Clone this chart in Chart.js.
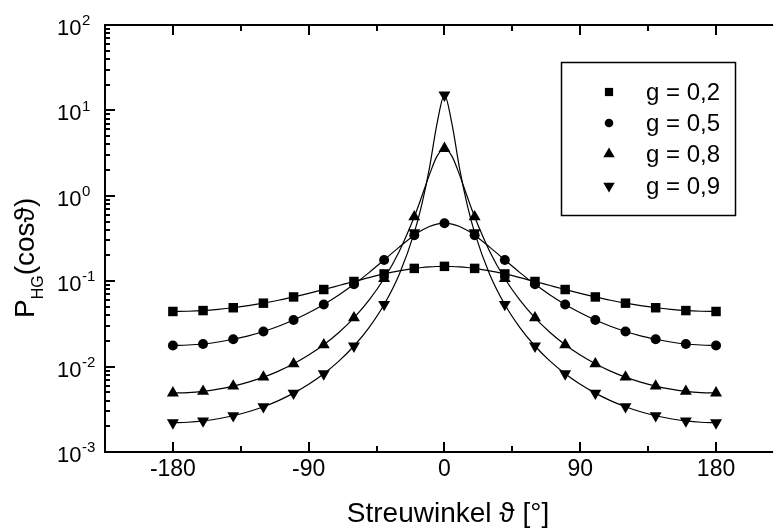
<!DOCTYPE html>
<html>
<head>
<meta charset="utf-8">
<script src="https://cdn.jsdelivr.net/npm/chart.js@4.4.1/dist/chart.umd.min.js"></script>
<style>
html,body{margin:0;padding:0;background:#fff;overflow:hidden;}
canvas{display:block;}
</style>
</head>
<body>
<canvas id="c" width="778" height="530"></canvas>
<script>
// ---- data ----
const markerAngles = [-180,-160,-140,-120,-100,-80,-60,-40,-20,0,20,40,60,80,100,120,140,160,180];
const lineAngles = [-180,-170,-160,-150,-140,-130,-120,-110,-100,-90,-80,-70,-60,-50,-40,-30,-20,-15,-10,-5,0,5,10,15,20,30,40,50,60,70,80,90,100,110,120,130,140,150,160,170,180];

const g02Marks = [0.0442,0.0453,0.0489,0.0553,0.0654,0.0799,0.0992,0.1216,0.1412,0.1492,0.1412,0.1216,0.0992,0.0799,0.0654,0.0553,0.0489,0.0453,0.0442];
const g05Marks = [0.0177,0.0184,0.0209,0.0258,0.0351,0.0534,0.0919,0.1773,0.3453,0.4775,0.3453,0.1773,0.0919,0.0534,0.0351,0.0258,0.0209,0.0184,0.0177];
const g08Marks = [0.00491,0.00514,0.00591,0.00752,0.01079,0.0180,0.0372,0.1074,0.568,3.581,0.568,0.1074,0.0372,0.0180,0.01079,0.00752,0.00591,0.00514,0.00491];
const g09Marks = [0.00220,0.00231,0.00266,0.00339,0.00489,0.00825,0.01742,0.0534,0.3704,15.12,0.3704,0.0534,0.01742,0.00825,0.00489,0.00339,0.00266,0.00231,0.00220];

const g02Line = [0.0442,0.0445,0.0453,0.0468,0.0489,0.0517,0.0553,0.0598,0.0654,0.0720,0.0799,0.0890,0.0992,0.1103,0.1216,0.1323,0.1412,0.1446,0.1471,0.1487,0.1492,0.1487,0.1471,0.1446,0.1412,0.1323,0.1216,0.1103,0.0992,0.0890,0.0799,0.0720,0.0654,0.0598,0.0553,0.0517,0.0489,0.0468,0.0453,0.0445,0.0442];
const g05Line = [0.0177,0.0179,0.0184,0.0194,0.0209,0.0229,0.0258,0.0297,0.0351,0.0427,0.0534,0.0690,0.0919,0.1261,0.1773,0.2508,0.3453,0.3942,0.4370,0.4668,0.4775,0.4668,0.4370,0.3942,0.3453,0.2508,0.1773,0.1261,0.0919,0.0690,0.0534,0.0427,0.0351,0.0297,0.0258,0.0229,0.0209,0.0194,0.0184,0.0179,0.0177];
const g08Line = [0.00491,0.00497,0.00514,0.00544,0.00591,0.00657,0.00752,0.00886,0.01079,0.01364,0.0180,0.0251,0.0372,0.0599,0.1074,0.2233,0.568,0.986,1.757,2.896,3.581,2.896,1.757,0.986,0.568,0.2233,0.1074,0.0599,0.0372,0.0251,0.0180,0.01364,0.01079,0.00886,0.00752,0.00657,0.00591,0.00544,0.00514,0.00497,0.00491];
const g09Line = [0.00220,0.00223,0.00231,0.00245,0.00266,0.00296,0.00339,0.00400,0.00489,0.00621,0.00825,0.01158,0.01742,0.02866,0.0534,0.1201,0.3704,0.794,2.095,6.913,15.12,6.913,2.095,0.794,0.3704,0.1201,0.0534,0.02866,0.01742,0.01158,0.00825,0.00621,0.00489,0.00400,0.00339,0.00296,0.00266,0.00245,0.00231,0.00223,0.00220];

const seriesLabels = ['g = 0,2','g = 0,5','g = 0,8','g = 0,9'];
const xTickLabels = [-180,-90,0,90,180];
const yTickExponents = [2,1,0,-1,-2,-3];

// ---- build ----
const FONT = "'Liberation Sans', Arial, Helvetica, sans-serif";
const pts = (xs, ys) => xs.map((x, i) => ({x: x, y: ys[i]}));
const styles = [
  {pointStyle:'rect', radius:6.7, rot:0},
  {pointStyle:'circle', radius:5, rot:0},
  {pointStyle:'triangle', radius:6.9, rot:0},
  {pointStyle:'triangle', radius:6.9, rot:180}
];
const lines = [g02Line, g05Line, g08Line, g09Line];
const marks = [g02Marks, g05Marks, g08Marks, g09Marks];

const datasets = [];
lines.forEach((l, i) => datasets.push({
  label: seriesLabels[i] + ' line', data: pts(lineAngles, l), showLine: true,
  borderColor: '#000', borderWidth: 1.2, pointRadius: 0, cubicInterpolationMode: 'monotone',
  fill: false, order: 2
}));
marks.forEach((m, i) => datasets.push({
  label: seriesLabels[i], data: pts(markerAngles, m), showLine: false,
  pointStyle: styles[i].pointStyle, pointRadius: styles[i].radius, pointRotation: styles[i].rot,
  backgroundColor: '#000', borderColor: '#000', borderWidth: 0, order: 1
}));

function drawMarker(ctx, style, x, y, r, rot) {
  ctx.save();
  ctx.translate(x, y);
  ctx.rotate(rot * Math.PI / 180);
  ctx.beginPath();
  if (style === 'rect') {
    const s = r * Math.SQRT1_2;
    ctx.rect(-s, -s, 2 * s, 2 * s);
  } else if (style === 'circle') {
    ctx.arc(0, 0, r, 0, Math.PI * 2);
  } else {
    for (let k = 0; k < 3; k++) {
      const a = -Math.PI / 2 + k * 2 * Math.PI / 3;
      const px = Math.cos(a) * r, py = Math.sin(a) * r;
      if (k === 0) ctx.moveTo(px, py); else ctx.lineTo(px, py);
    }
    ctx.closePath();
  }
  ctx.fillStyle = '#000';
  ctx.fill();
  ctx.restore();
}

const decor = {
  id: 'decor',
  afterDraw(chart) {
    const ctx = chart.ctx, a = chart.chartArea;
    const xs = chart.scales.x, ys = chart.scales.y;
    ctx.save();
    ctx.strokeStyle = '#000';
    ctx.lineWidth = 2;
    // frame
    ctx.beginPath();
    ctx.moveTo(a.right + 2, a.top); ctx.lineTo(a.left, a.top); ctx.lineTo(a.left, a.bottom); ctx.lineTo(a.right + 2, a.bottom);
    ctx.stroke();
    // x ticks
    ctx.beginPath();
    for (let v = -180; v <= 180; v += 45) {
      const px = Math.round(xs.getPixelForValue(v));
      const len = (v % 90 === 0) ? 10 : 6;
      ctx.moveTo(px, a.bottom); ctx.lineTo(px, a.bottom - len);
      ctx.moveTo(px, a.top); ctx.lineTo(px, a.top + len);
    }
    // y ticks
    for (let e = -3; e <= 2; e++) {
      const py = Math.round(ys.getPixelForValue(Math.pow(10, e)));
      ctx.moveTo(a.left, py); ctx.lineTo(a.left + 10, py);
      if (e < 2) {
        for (let m = 2; m <= 9; m++) {
          const pm = Math.round(ys.getPixelForValue(m * Math.pow(10, e)));
          ctx.moveTo(a.left, pm); ctx.lineTo(a.left + 5, pm);
        }
      }
    }
    ctx.stroke();
    ctx.fillStyle = '#000';
    // x tick labels
    ctx.font = '23px ' + FONT;
    ctx.textAlign = 'center'; ctx.textBaseline = 'middle';
    xTickLabels.forEach(v => ctx.fillText(String(v), xs.getPixelForValue(v), 470));
    // y tick labels with superscripts
    yTickExponents.forEach(e => {
      const py = ys.getPixelForValue(Math.pow(10, e));
      ctx.font = '22px ' + FONT;
      ctx.textAlign = 'left'; ctx.textBaseline = 'middle';
      ctx.fillText('10', 57, py + 4);
      ctx.font = '15px ' + FONT;
      ctx.fillText(e < 0 ? '-' + (-e) : String(e), 82, py - 4);
    });
    // x title
    ctx.font = '28px ' + FONT;
    ctx.textAlign = 'center'; ctx.textBaseline = 'alphabetic';
    ctx.fillText('Streuwinkel \u03D1 [\u00B0]', 448, 522);
    // y title
    ctx.save();
    ctx.translate(34, 318);
    ctx.rotate(-Math.PI / 2);
    ctx.textAlign = 'left'; ctx.textBaseline = 'alphabetic';
    ctx.font = '28px ' + FONT;
    ctx.fillText('P', 0, 0);
    let w = ctx.measureText('P').width;
    ctx.font = '16px ' + FONT;
    ctx.fillText('HG', w, 9);
    w += ctx.measureText('HG').width;
    ctx.font = '28px ' + FONT;
    ctx.fillText('(cos\u03D1)', w, 0);
    ctx.restore();
    // legend
    ctx.lineWidth = 1.5;
    ctx.strokeRect(561.5, 62.5, 174, 153);
    const rowsY = [92, 123, 154, 186];
    const legR = [5.8, 4.3, 6.6, 6.6];
    seriesLabels.forEach((lab, i) => {
      drawMarker(ctx, styles[i].pointStyle, 609, rowsY[i], legR[i], styles[i].rot);
      ctx.font = '24px ' + FONT;
      ctx.textAlign = 'left'; ctx.textBaseline = 'middle';
      ctx.fillText(lab, 646, rowsY[i] + 1);
    });
    ctx.restore();
  }
};

new Chart(document.getElementById('c'), {
  type: 'scatter',
  data: {datasets: datasets},
  options: {
    responsive: false, animation: false, devicePixelRatio: 1,
    layout: {padding: {left: 105, right: 0, top: 25, bottom: 78}},
    scales: {
      x: {type: 'linear', min: -225, max: 216.5, display: false},
      y: {type: 'logarithmic', min: 0.001, max: 100, display: false}
    },
    plugins: {legend: {display: false}, tooltip: {enabled: false}}
  },
  plugins: [decor]
});
</script>
</body>
</html>
